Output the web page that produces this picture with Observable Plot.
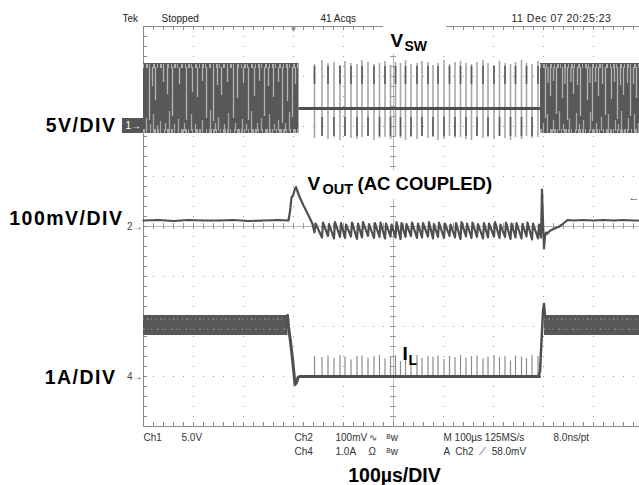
<!DOCTYPE html>
<html><head><meta charset="utf-8">
<script src="https://cdn.jsdelivr.net/npm/d3@7"></script>
<script src="https://cdn.jsdelivr.net/npm/@observablehq/plot@0.6"></script>
<style>
html,body{margin:0;padding:0;background:#fff;}
#chart{width:639px;height:485px;overflow:hidden;}
.scale-lbl text{letter-spacing:1.5px;}
.date-lbl text{letter-spacing:0.5px;}
</style></head><body><div id="chart"></div>
<script>
// ---------------- DATA (time in µs from left screen edge, 100 µs/div) ----------------
// Ch1 V_SW, 5 V/div
const swBurstStart = [0, 794];          // dense switching bursts (µs)
const swBurstEnd   = [311, 1000];
const swHighV = 6.3, swLowV = -0.7, swSkipV = 1.8;   // volts
const swPulseTimes = [342,357,369,381,393,403,415,427,437,449,461,472,483,494,504,514,524,535,547,557,569,579,589,601,612,623,634,645,656,667,679,689,701,712,723,734,744,756,766,777,789];
const swPulseTopV  = [6.2,6.6,6.3,6.4,6.1,6.5,6.3,6.2,6.6,6.4,6.2,6.3,6.5,6.1,6.4,6.3,6.6,6.2,6.3,6.5,6.4,6.1,6.3,6.6,6.2,6.4,6.5,6.3,6.2,6.4,6.6,6.3,6.1,6.5,6.3,6.2,6.4,6.6,6.3,6.2,6.5];
const swPulseBotV  = [-1.2,-1.0,-1.3,-1.1,-1.4,-1.0,-1.2,-1.3,-1.1,-1.0,-1.4,-1.2,-1.1,-1.3,-1.0,-1.2,-1.4,-1.1,-1.3,-1.0,-1.2,-1.1,-1.4,-1.3,-1.0,-1.2,-1.1,-1.3,-1.4,-1.0,-1.2,-1.1,-1.3,-1.0,-1.2,-1.4,-1.1,-1.3,-1.0,-1.2,-1.1];
// light streaks inside the dense bursts: [time µs, lowest volt reached from the top]
const swTopStreaks = [[12,0.6],[18,4.0],[24,2.6],[40,4.4],[48,3.2],[58,1.0],[72,4.2],[86,0.6],[98,3.4],[108,2.9],[118,4.5],[126,0.8],[140,0.5],[148,4.1],[156,3.1],[168,4.4],[180,0.8],[188,2.8],[200,4.3],[210,0.6],[222,3.0],[232,4.5],[242,1.0],[250,4.0],[260,2.9],[270,4.4],[278,0.3],[288,2.5],[298,0.9],[304,4.2],
  [804,0.8],[809,4.3],[814,3.0],[820,4.5],[826,1.2],[838,2.8],[843,4.2],[848,0.6],[855,4.4],[860,3.2],[868,4.1],[874,1.0],[888,2.6],[893,4.3],[898,0.5],[904,4.4],[910,3.0],[918,4.2],[924,1.1],[936,2.7],[942,4.4],[948,0.7],[954,4.1],[960,3.1],[968,4.3],[974,1.0],[980,4.2],[986,2.8]];
// streaks from the bottom: [time µs, highest volt reached]
const swBotStreaks = [[6,0.8],[14,0.2],[20,1.2],[28,0.1],[34,0.5],[44,0.3],[52,1.5],[62,0.2],[70,0.7],[82,0.3],[96,1.2],[104,0.2],[118,0.6],[134,1.6],[144,0.3],[150,0.9],[162,0.2],[170,1.3],[184,0.3],[198,0.7],[206,0.2],[216,1.5],[228,0.3],[236,0.8],[252,1.2],[262,0.2],[270,0.6],[284,0.3],[292,1.4],
  [800,0.3],[808,1.2],[820,0.6],[832,1.5],[840,0.2],[852,0.8],[866,1.3],[872,0.2],[880,0.6],[894,1.4],[906,0.3],[916,0.9],[930,1.2],[944,0.6],[950,0.2],[956,1.5],[970,0.8],[982,1.2],[990,0.3]];

// Ch2 V_OUT (AC coupled), 100 mV/div
const voutPreT  = [0,30,60,90,120,150,180,210,240,270,290,293,296,299,303,305,308,314,320,326,332,338];
const voutPreMv = [12,13,11,13,12,12,13,11,12,13,12,30,58,62,76,79,70,55,42,30,18,5];
const voutPeakMv   = [6,8,5,9,7,4,8,6,9,5,7,8,6,4,9,7,5,8,6,7,9,5,8,6,4,7,9,6,8,5,7,6,9,4,8,6,7,5,8,6,4];
const voutTroughMv = [-12,-22,-19,-24,-21,-23,-20,-25,-22,-19,-23,-21,-24,-20,-22,-25,-21,-19,-23,-22,-20,-24,-21,-23,-19,-22,-25,-20,-23,-21,-24,-22,-20,-23,-21,-25,-22,-24,-20,-26,-24];
const voutPostT  = [795,797,799,801,803,805,808,812,818,824,830,836,842,848,860,880,900,920,940,960,980,1000];
const voutPostMv = [-22,74,10,-44,-20,-12,-14,-9,-6,-3,-1,3,8,13,12,13,12,13,12,13,12,12];

// Ch4 I_L, 1 A/div
const ilBandStart = [0, 802], ilBandEnd = [289, 1000];
const ilBandLowA = 0.82, ilBandHighA = 1.22;
const ilFallT = [288,290,294,298,301,303,306,309,312,792];
const ilFallA = [1.22,1.0,0.7,0.35,0.05,-0.16,-0.12,-0.02,0,0];
const ilRiseT = [790,793,795,797,799,801,803];
const ilRiseA = [0,0.1,0.5,0.9,1.3,1.45,1.2];
const ilSpikeA = [0.40,0.38,0.41,0.36,0.42,0.39,0.33,0.40,0.41,0.37,0.40,0.42,0.35,0.39,0.41,0.30,0.40,0.38,0.42,0.36,0.40,0.39,0.41,0.34,0.40,0.38,0.42,0.37,0.40,0.41,0.35,0.39,0.42,0.38,0.40,0.31,0.41,0.39,0.36,0.42,0.40];

// Text
const headerText = ["Tek","Stopped","41 Acqs","11 Dec 07 20:25:23"];
const scaleLabels = ["5V/DIV","100mV/DIV","1A/DIV"];
const footRow1 = ["Ch1","5.0V","Ch2","100mV","∿","ᴮw","M 100µs 125MS/s","8.0ns/pt"];
const footRow2 = ["Ch4","1.0A","Ω","ᴮw","A  Ch2  ⟋  58.0mV"];
const timeLabel = "100µs/DIV";

// ---------------- LAYOUT HELPERS ----------------
const ML = 143, MT = 26, MB = 59, W = 639, H = 485;
const X = px => (px - ML) * 2;           // pixel → µs
const Y = py => (H - MB - py) / 50;      // pixel → div
const ch1 = v => 6 + v / 5;
const ch2 = mv => 4 + mv / 100;
const ch4 = a => 1 + a;

const TRACE = "#4f4f4f", GRID = "#9a9a9a", BORDER = "#8a8a8a";
const SANS = "'Liberation Sans', Arial, Helvetica, sans-serif";

const bursts = swBurstStart.map((s, i) => ({t0: s, t1: swBurstEnd[i]}));
const pulses = swPulseTimes.map((t, i) => ({t, top: swPulseTopV[i], bot: swPulseBotV[i], i, il: ilSpikeA[i]}));
const vout = [];
voutPreT.forEach((t, i) => vout.push({t, v: voutPreMv[i]}));
swPulseTimes.forEach((t, i) => { vout.push({t, v: voutTroughMv[i]}); vout.push({t: t + 2, v: voutPeakMv[i]}); });
voutPostT.forEach((t, i) => vout.push({t, v: voutPostMv[i]}));
const ilBands = ilBandStart.map((s, i) => ({t0: s, t1: ilBandEnd[i]}));
const ilFall = ilFallT.map((t, i) => ({t, a: ilFallA[i]}));
const ilRise = ilRiseT.map((t, i) => ({t, a: ilRiseA[i]}));

const minorX = d3.range(0, 1000, 20), minorY = d3.range(0, 8.001, 0.2);

const txt = (data, o) => Plot.text(data, {fontFamily: SANS, fill: "#222", lineAnchor: "middle", ...o});

const chart = Plot.plot({
  width: W, height: H, marginLeft: ML, marginRight: 0, marginTop: MT, marginBottom: MB,
  x: {domain: [0, 992], axis: null},
  y: {domain: [0, 8], axis: null},
  style: {fontFamily: SANS, background: "#fff"},
  marks: [
    // graticule
    Plot.ruleX([100,200,300,400,600,700,800,900], {stroke: GRID, strokeDasharray: "1 9"}),
    Plot.ruleY([1,2,3,5,6,7], {stroke: GRID, strokeDasharray: "1 9"}),
    Plot.ruleX([500], {stroke: "#b8b8b8"}),
    Plot.ruleY([4], {stroke: "#b8b8b8"}),
    Plot.ruleY(minorY, {y: d => d, x1: 494, x2: 506, stroke: GRID}),
    Plot.ruleX(minorX, {x: d => d, y1: 3.94, y2: 4.06, stroke: GRID}),
    Plot.ruleX(minorX, {x: d => d, y1: 8, y2: 7.92, stroke: BORDER}),
    Plot.ruleX(minorX, {x: d => d, y1: 0, y2: 0.08, stroke: BORDER}),
    Plot.ruleY(minorY, {y: d => d, x1: 0, x2: 8, stroke: BORDER}),
    Plot.ruleY([0, 8], {stroke: BORDER}),
    Plot.ruleX([0], {stroke: BORDER}),

    // ---- Ch1 V_SW ----
    Plot.rect(bursts, {x1: "t0", x2: "t1", y1: ch1(swLowV), y2: ch1(swHighV), fill: "#585858"}),
    Plot.ruleX(swTopStreaks, {x: d => d[0], y1: ch1(5.9), y2: d => ch1(d[1]), stroke: "#b4b4b4", strokeWidth: 1.3}),
    Plot.ruleX(swBotStreaks, {x: d => d[0], y1: ch1(-0.5), y2: d => ch1(d[1]), stroke: "#a8a8a8", strokeWidth: 1.3}),
    Plot.ruleY(bursts, {y: ch1(6.05), x1: "t0", x2: "t1", stroke: "#b0b0b0", strokeWidth: 4, strokeDasharray: "1 2 2 1 1 3 2 2"}),
    Plot.ruleY(bursts, {y: ch1(-0.45), x1: "t0", x2: "t1", stroke: "#a8a8a8", strokeWidth: 4, strokeDasharray: "2 1 1 3 1 2 3 1"}),
    Plot.ruleX(pulses, {x: "t", y1: d => ch1(d.bot), y2: d => ch1(d.top), stroke: "#a6a6a6", strokeWidth: 1.6}),
    Plot.ruleX(pulses, {x: "t", y1: d => d.i % 2 ? ch1(-1.0) : ch1(4.2), y2: d => d.i % 2 ? ch1(0.9) : ch1(6.0), stroke: "#5a5a5a", strokeWidth: 1.6}),
    Plot.ruleY([{t0: swBurstEnd[0], t1: swBurstStart[1]}], {y: ch1(swSkipV), x1: "t0", x2: "t1", stroke: TRACE, strokeWidth: 3}),

    // ---- Ch2 V_OUT ----
    Plot.line(vout, {x: "t", y: d => ch2(d.v), stroke: TRACE, strokeWidth: 2.2, strokeLinejoin: "round"}),

    // ---- Ch4 I_L ----
    Plot.rect(ilBands, {x1: "t0", x2: "t1", y1: ch4(ilBandLowA), y2: ch4(ilBandHighA), fill: "#575757"}),
    Plot.ruleY(ilBands, {y: ch4(1.15), x1: "t0", x2: "t1", stroke: "#7a7a7a", strokeWidth: 2, strokeDasharray: "1 3 2 2 1 4"}),
    Plot.ruleY(ilBands, {y: ch4(0.95), x1: "t0", x2: "t1", stroke: "#747474", strokeWidth: 2, strokeDasharray: "2 3 1 2 1 5"}),
    Plot.ruleX(pulses, {x: "t", y1: ch4(0), y2: d => ch4(d.il), stroke: "#8c8c8c", strokeWidth: 1.2}),
    Plot.line(ilFall, {x: "t", y: d => ch4(d.a), stroke: TRACE, strokeWidth: 3}),
    Plot.line(ilRise, {x: "t", y: d => ch4(d.a), stroke: TRACE, strokeWidth: 2.5}),

    // ---- in-plot labels ----
    Plot.rect([0], {x1: X(383), x2: X(446), y1: Y(54), y2: Y(25), fill: "#fff"}),
    txt(["V"], {x: X(390), y: Y(40), text: d => d, fontSize: 19, fontWeight: "bold", textAnchor: "start", fill: "#000"}),
    txt(["SW"], {x: X(404), y: Y(46), text: d => d, fontSize: 14, fontWeight: "bold", textAnchor: "start", fill: "#000"}),
    Plot.rect([0], {x1: X(303), x2: X(500), y1: Y(199), y2: Y(170), fill: "#fff"}),
    txt(["V"], {x: X(307), y: Y(183), text: d => d, fontSize: 19, fontWeight: "bold", textAnchor: "start", fill: "#000"}),
    txt(["OUT"], {x: X(322), y: Y(189), text: d => d, fontSize: 14.5, fontWeight: "bold", textAnchor: "start", fill: "#000"}),
    txt(["(AC COUPLED)"], {x: X(357), y: Y(184), text: d => d, fontSize: 18.5, fontWeight: "bold", textAnchor: "start", fill: "#000"}),
    txt(["I"], {x: X(402), y: Y(353), text: d => d, fontSize: 19, fontWeight: "bold", textAnchor: "start", fill: "#000"}),
    txt(["L"], {x: X(408), y: Y(360), text: d => d, fontSize: 14, fontWeight: "bold", textAnchor: "start", fill: "#000"}),

    // ---- channel markers ----
    Plot.rect([0], {x1: X(122), x2: X(143), y1: Y(133), y2: Y(118), fill: "#555"}),
    txt(["1→"], {x: X(125), y: Y(125), text: d => d, fontSize: 10, textAnchor: "start", fill: "#fff"}),
    txt(["2→"], {x: X(142), y: Y(226), text: d => d, fontSize: 10, textAnchor: "end", fill: "#444"}),
    txt(["4→"], {x: X(142), y: Y(376), text: d => d, fontSize: 10, textAnchor: "end", fill: "#444"}),
    txt(["←"], {x: X(639), y: Y(197), text: d => d, fontSize: 11, textAnchor: "end", fill: "#444"}),
    txt(["▼"], {x: 300, y: Y(29), text: d => d, fontSize: 8, fill: "#888"}),

    // ---- scale labels ----
    txt(scaleLabels, {x: (d, i) => X([116, 123, 116][i]), y: (d, i) => Y([125, 218, 377][i]), text: d => d, fontSize: 19.5, fontWeight: "bold", textAnchor: "end", fill: "#000", className: "scale-lbl"}),

    // ---- header ----
    txt(headerText.slice(0, 3), {x: (d, i) => X([122, 161, 320][i]), y: Y(18), text: d => d, fontSize: 10, textAnchor: "start"}),
    txt(headerText.slice(3), {x: X(511), y: Y(18), text: d => d, fontSize: 10.5, textAnchor: "start", className: "date-lbl"}),
    // ---- footer ----
    txt(footRow1, {x: (d, i) => X([143, 181, 294, 335, 368, 386, 443, 553][i]), y: Y(437), text: d => d, fontSize: 10, textAnchor: "start", fill: "#333"}),
    txt(footRow2, {x: (d, i) => X([294, 335, 368, 386, 443][i]), y: Y(451), text: d => d, fontSize: 10, textAnchor: "start", fill: "#333"}),
    txt([timeLabel], {x: X(394), y: Y(475), text: d => d, fontSize: 19.5, fontWeight: "bold", textAnchor: "middle", fill: "#000"})
  ]
});
document.getElementById("chart").append(chart);
</script>
</body></html>
